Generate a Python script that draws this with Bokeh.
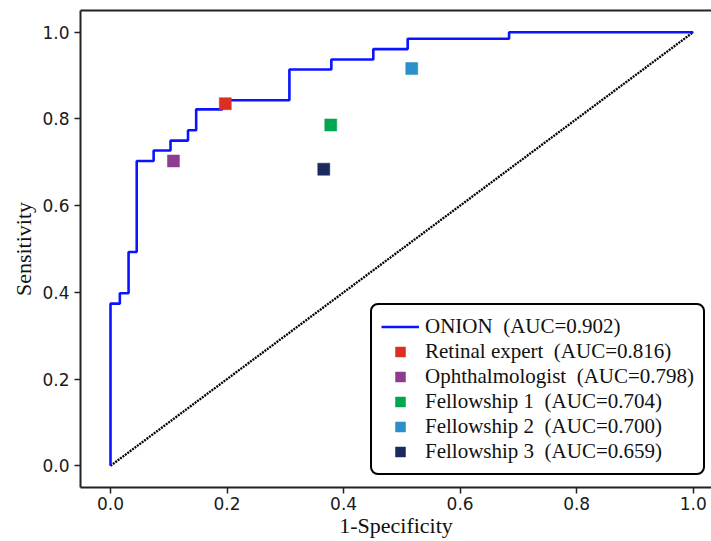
from bokeh.plotting import figure
from bokeh.models import (Legend, LegendItem, LinearAxis, FixedTicker,
                          PrintfTickFormatter, Range1d)
from bokeh.embed import file_html
from bokeh.resources import INLINE

# ROC curve of ONION (step points: 1-specificity, sensitivity)
roc_fpr = [0.0, 0.0, 0.016, 0.016, 0.031, 0.031, 0.045, 0.045, 0.074, 0.074,
           0.103, 0.103, 0.133, 0.133, 0.147, 0.147, 0.192, 0.192, 0.307, 0.307,
           0.379, 0.379, 0.451, 0.451, 0.510, 0.510, 0.684, 0.684, 1.0]
roc_tpr = [0.0, 0.374, 0.374, 0.398, 0.398, 0.493, 0.493, 0.703, 0.703, 0.727,
           0.727, 0.750, 0.750, 0.774, 0.774, 0.822, 0.822, 0.843, 0.843, 0.914,
           0.914, 0.937, 0.937, 0.961, 0.961, 0.985, 0.985, 1.0, 1.0]
roc_name = "ONION"
roc_auc = "0.902"

# Human graders
grader_names = ["Retinal expert", "Ophthalmologist", "Fellowship 1",
                "Fellowship 2", "Fellowship 3"]
grader_auc = ["0.816", "0.798", "0.704", "0.700", "0.659"]
grader_fpr = [0.197, 0.108, 0.378, 0.517, 0.366]
grader_tpr = [0.835, 0.703, 0.786, 0.916, 0.684]
grader_colors = ["#dc2f23", "#8e3c8f", "#00a651", "#2a8fca", "#1b2a5c"]

chance_x = [0.0, 1.0]
chance_y = [0.0, 1.0]

ticks = [0.0, 0.2, 0.4, 0.6, 0.8, 1.0]

GAP = "\u00a0 "  # two spaces between name and AUC (kept in SVG)

p = figure(width=711, height=540, output_backend="svg", toolbar_location=None,
           x_range=Range1d(-0.0515, 1.0314), y_range=Range1d(-0.05, 1.05),
           min_border_left=80, min_border_right=0, min_border_top=10,
           min_border_bottom=52, background_fill_color="white",
           border_fill_color="white")
p.outline_line_color = None
p.xgrid.visible = False
p.ygrid.visible = False

for ax in (p.xaxis[0], p.yaxis[0]):
    ax.ticker = FixedTicker(ticks=ticks)
    ax.formatter = PrintfTickFormatter(format="%.1f")
    ax.major_label_text_font = "DejaVu Sans"
    ax.major_label_text_font_size = "17px"
    ax.major_label_text_color = "#1a1a1a"
    ax.axis_line_width = 2
    ax.axis_line_color = "#222222"
    ax.major_tick_line_width = 1.5
    ax.major_tick_line_color = "#222222"
    ax.major_tick_out = 6
    ax.major_tick_in = 0
    ax.minor_tick_line_color = None
    ax.axis_label_text_font = "Liberation Serif"
    ax.axis_label_text_font_size = "22px"
    ax.axis_label_text_font_style = "normal"
    ax.axis_label_text_color = "#111111"

p.xaxis[0].axis_label = "1-Specificity"
p.xaxis[0].major_label_standoff = 3
p.xaxis[0].axis_label_standoff = 0
p.yaxis[0].axis_label = "Sensitivity"
p.yaxis[0].major_label_standoff = 5
p.yaxis[0].axis_label_standoff = 3

top = LinearAxis(ticker=FixedTicker(ticks=[]), axis_line_width=2,
                 axis_line_color="#222222", major_tick_out=0, major_tick_in=0,
                 minor_tick_line_color=None, major_label_standoff=0)
p.add_layout(top, "above")

chance = p.line(chance_x, chance_y, line_color="black", line_width=2.3,
                line_dash="2 1")
roc = p.line(roc_fpr, roc_tpr, line_color="#0a14ff", line_width=2.6)

items = [LegendItem(label=f"{roc_name}{GAP}(AUC={roc_auc})", renderers=[roc])]
for name, auc, fx, ty, col in zip(grader_names, grader_auc, grader_fpr,
                                  grader_tpr, grader_colors):
    r = p.scatter([fx], [ty], marker="square", size=12, fill_color=col,
                  line_color=col, line_alpha=0.5)
    items.append(LegendItem(label=f"{name}{GAP}(AUC={auc})", renderers=[r]))

legend = Legend(items=items, location=(290, 12), padding=9, spacing=0,
                glyph_width=38, glyph_height=25, label_height=25,
                label_standoff=6, label_text_font="Liberation Serif",
                label_text_font_size="21px", label_text_color="#111111",
                border_line_color="black", border_line_width=2,
                border_line_alpha=1.0,
                background_fill_color="white", background_fill_alpha=1.0,
                margin=0)
if "border_radius" in Legend.properties():
    legend.border_radius = 8
p.add_layout(legend, "center")

open("out.html", "w").write(file_html(p, INLINE))
